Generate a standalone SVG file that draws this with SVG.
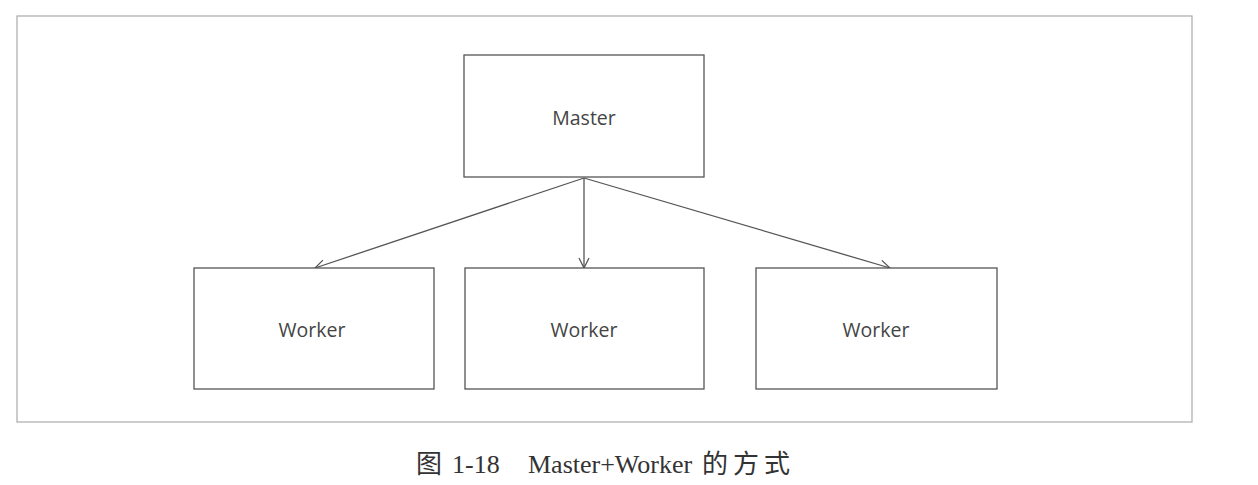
<svg xmlns="http://www.w3.org/2000/svg" width="1258" height="485" viewBox="0 0 1258 485">
<defs>
<style>
.box{fill:#fff;stroke:#555;stroke-width:1.3}
.lbl{font-family:"Open Sans","Noto Sans",sans-serif;font-size:19.5px;fill:#444;text-anchor:middle}
.edge{stroke:#555;stroke-width:1.3;fill:none}
.cap{font-family:"Liberation Serif","Noto Sans CJK SC",serif;font-size:26px;fill:#333}
</style>
<marker id="arr" viewBox="0 0 12 12" refX="11" refY="6" markerWidth="12" markerHeight="12" markerUnits="userSpaceOnUse" orient="auto">
<path d="M1,1 L11,6 L1,11" fill="none" stroke="#555" stroke-width="1.3"/>
</marker>
</defs>
<rect x="17" y="16" width="1175" height="406" fill="#fff" stroke="#aaa" stroke-width="1.2"/>
<g id="connectors">
<line class="edge" x1="584" y1="178" x2="315" y2="268" marker-end="url(#arr)"/>
<line class="edge" x1="584" y1="178" x2="584" y2="268" marker-end="url(#arr)"/>
<line class="edge" x1="584" y1="178" x2="890" y2="268" marker-end="url(#arr)"/>
</g>
<g id="master">
<rect class="box" x="464" y="55" width="240" height="122"/>
<text class="lbl" x="584" y="125">Master</text>
</g>
<g id="worker1">
<rect class="box" x="194" y="268" width="240" height="121"/>
<text class="lbl" x="312" y="337">Worker</text>
</g>
<g id="worker2">
<rect class="box" x="465" y="268" width="239" height="121"/>
<text class="lbl" x="584" y="337">Worker</text>
</g>
<g id="worker3">
<rect class="box" x="756" y="268" width="241" height="121"/>
<text class="lbl" x="876" y="337">Worker</text>
</g>
<text class="cap" y="473"><tspan x="416">图</tspan><tspan x="452">1-18</tspan><tspan x="528">Master+Worker</tspan><tspan x="702">的</tspan><tspan x="733">方</tspan><tspan x="764">式</tspan></text>
</svg>
